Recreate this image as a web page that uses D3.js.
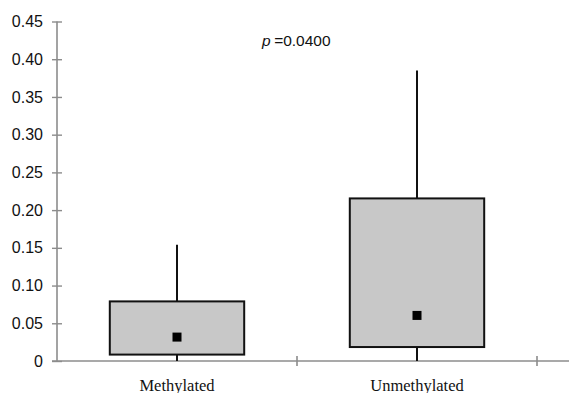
<!DOCTYPE html>
<html>
<head>
<meta charset="utf-8">
<script src="https://cdn.jsdelivr.net/npm/d3@7"></script>
<style>
  html, body { margin: 0; padding: 0; background: #fff; }
  svg { display: block; }
</style>
</head>
<body>
<svg id="chart" width="569" height="393"></svg>
<script>
// ---- data ----
const categories = ["Methylated", "Unmethylated"];
const whiskerLow = [0, 0];
const boxLow = [0.0085, 0.0185];
const boxHigh = [0.079, 0.2155];
const whiskerHigh = [0.154, 0.385];
const means = [0.0317, 0.0604];
const yTicks = [0, 0.05, 0.10, 0.15, 0.20, 0.25, 0.30, 0.35, 0.40, 0.45];
const pLabel = "p";
const pValue = "=0.0400";

// ---- layout ----
const W = 569, H = 393;
const svg = d3.select("#chart");
const x = d3.scaleBand().domain(categories).range([57, 537]).padding(0);
const y = d3.scaleLinear().domain([0, 0.45]).range([361, 21.5]);
const boxW = x.bandwidth() * 0.56;
const axisColor = "#8c8c8c";

// y axis
const yAxis = svg.append("g")
  .attr("transform", "translate(57,0)")
  .call(d3.axisLeft(y).tickValues(yTicks).tickSize(5).tickPadding(9)
    .tickFormat(d => d === 0 ? "0" : d3.format(".2f")(d)));
yAxis.select(".domain").attr("stroke", axisColor).attr("stroke-width", 1.6)
  .attr("d", `M0,${y(0.45)}V${y(0)}`);
yAxis.selectAll(".tick line").attr("x1", -5).attr("x2", 5)
  .attr("stroke", axisColor).attr("stroke-width", 1.4);
yAxis.selectAll(".tick text")
  .attr("font-family", "'Liberation Sans', Arial, sans-serif")
  .attr("font-size", 16).attr("fill", "#111");

// x axis
const xAxisG = svg.append("g").attr("transform", `translate(0,${y(0)})`);
xAxisG.append("line").attr("x1", 52).attr("x2", W).attr("y1", 0).attr("y2", 0)
  .attr("stroke", axisColor).attr("stroke-width", 1.6);
const bounds = [x(categories[1]), x(categories[1]) + x.bandwidth()];
xAxisG.selectAll("line.xt").data(bounds).enter().append("line")
  .attr("class", "xt")
  .attr("x1", d => d).attr("x2", d => d).attr("y1", -5).attr("y2", 5)
  .attr("stroke", axisColor).attr("stroke-width", 1.6);
xAxisG.selectAll("text").data(categories).enter().append("text")
  .attr("x", d => x(d) + x.bandwidth() / 2)
  .attr("y", 29.5)
  .attr("text-anchor", "middle")
  .attr("font-family", "'Liberation Serif', 'Times New Roman', serif")
  .attr("font-size", 16.5).attr("fill", "#111")
  .text(d => d);

// boxes
const g = svg.append("g");
categories.forEach((c, i) => {
  const cx = x(c) + x.bandwidth() / 2;
  // whiskers
  g.append("line").attr("x1", cx).attr("x2", cx)
    .attr("y1", y(boxHigh[i])).attr("y2", y(whiskerHigh[i]))
    .attr("stroke", "#111").attr("stroke-width", 2);
  g.append("line").attr("x1", cx).attr("x2", cx)
    .attr("y1", y(whiskerLow[i])).attr("y2", y(boxLow[i]))
    .attr("stroke", "#111").attr("stroke-width", 2);
  // box
  g.append("rect")
    .attr("x", cx - boxW / 2).attr("width", boxW)
    .attr("y", y(boxHigh[i])).attr("height", y(boxLow[i]) - y(boxHigh[i]))
    .attr("fill", "#c8c8c8").attr("stroke", "#111").attr("stroke-width", 2);
  // mean
  g.append("rect")
    .attr("x", cx - 4.5).attr("y", y(means[i]) - 4.5)
    .attr("width", 9).attr("height", 9).attr("fill", "#000");
});

// p value annotation
const pt = svg.append("text")
  .attr("x", 262).attr("y", 46)
  .attr("font-family", "'Liberation Sans', Arial, sans-serif")
  .attr("font-size", 15.5).attr("fill", "#111");
pt.append("tspan").attr("font-style", "italic").text(pLabel);
pt.append("tspan").attr("dx", 3.5).text(pValue);
</script>
</body>
</html>
